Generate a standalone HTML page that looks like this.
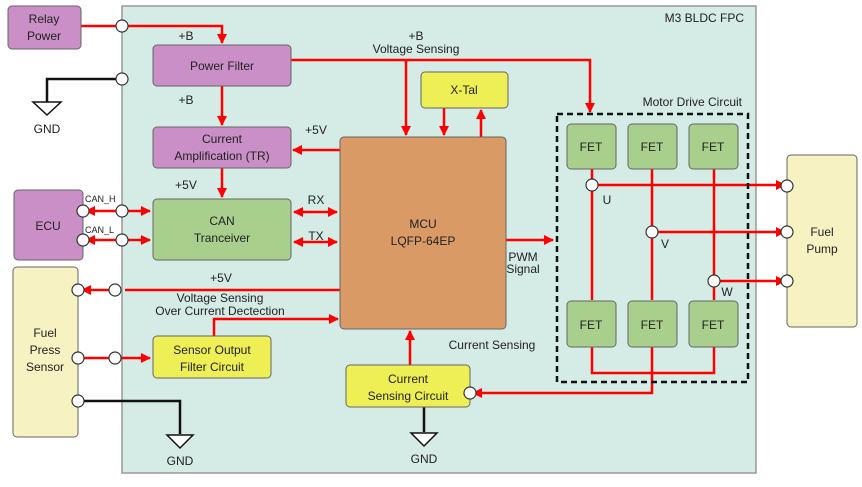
<!DOCTYPE html>
<html><head><style>body{margin:0;background:#fff}svg{display:block}</style></head><body>
<svg width="862" height="487" viewBox="0 0 862 487" xmlns="http://www.w3.org/2000/svg" font-family="Liberation Sans, sans-serif" font-size="12" fill="#222">
<defs>
<marker id="a" viewBox="0 0 10 10" refX="9" refY="5" markerWidth="4" markerHeight="4" orient="auto-start-reverse"><path d="M0,0L10,5L0,10z" fill="#f00"/></marker>
</defs>
<rect x="122" y="6" width="634" height="467" fill="#d4ebe6" stroke="#999" stroke-width="1.5"/>
<text x="744" y="22" text-anchor="end" font-size="12">M3 BLDC FPC</text>
<g stroke="#f00" stroke-width="2.5" fill="none">
<path d="M81,26H222V43" marker-end="url(#a)"/>
<path d="M291,60H590V112" marker-end="url(#a)"/>
<path d="M406,60V135" marker-end="url(#a)"/>
<path d="M222,86V125" marker-end="url(#a)"/>
<path d="M340,150H293" marker-end="url(#a)"/>
<path d="M222,168V197" marker-end="url(#a)"/>
<path d="M294,212H337" marker-start="url(#a)" marker-end="url(#a)"/>
<path d="M294,242H337" marker-start="url(#a)" marker-end="url(#a)"/>
<path d="M86,211H119" marker-start="url(#a)"/>
<path d="M125,211H150" marker-end="url(#a)"/>
<path d="M86,240H119" marker-start="url(#a)"/>
<path d="M125,240H150" marker-end="url(#a)"/>
<path d="M340,290H125"/>
<path d="M111,290H82" marker-end="url(#a)"/>
<path d="M82,358H111"/>
<path d="M119,358H150" marker-end="url(#a)"/>
<path d="M214,336V319H338" marker-end="url(#a)"/>
<path d="M410,365V331" marker-end="url(#a)"/>
<path d="M444,108V135" marker-end="url(#a)"/>
<path d="M481,137V110" marker-end="url(#a)"/>
<path d="M506,240H553" marker-end="url(#a)"/>
<path d="M592,169V300M652,169V300M714,169V300"/>
<path d="M592,185H785" marker-end="url(#a)"/>
<path d="M652,232H785" marker-end="url(#a)"/>
<path d="M714,281H785" marker-end="url(#a)"/>
<path d="M592,347V373H714V347"/>
<path d="M652,347V393H473" marker-end="url(#a)"/>
</g>
<g stroke="#111" stroke-width="2.5" fill="none">
<path d="M122,79H47V102"/><path d="M78,401H180V434"/><path d="M424,407V432"/>
</g>
<g fill="#fff" stroke="#111" stroke-width="1.5">
<path d="M33,102H61L47,115z"/><path d="M167,435H193L180,448z"/><path d="M411,433H437L424,446z"/>
</g>
<g font-size="12" text-anchor="middle">
<text x="47" y="133">GND</text><text x="180" y="465">GND</text><text x="424" y="463">GND</text>
</g>
<rect x="557" y="114" width="191" height="268" fill="none" stroke="#111" stroke-width="2.5" stroke-dasharray="6,4"/>
<text x="742" y="106" text-anchor="end">Motor Drive Circuit</text>
<g stroke="#666" stroke-width="1">
<rect x="8" y="6" width="73" height="43" rx="4" fill="#c98fc6"/>
<rect x="153" y="45" width="138" height="41" rx="4" fill="#c98fc6"/>
<rect x="153" y="127" width="138" height="41" rx="4" fill="#c98fc6"/>
<rect x="153" y="199" width="138" height="61" rx="4" fill="#a8d08c"/>
<rect x="14" y="190" width="69" height="70" rx="4" fill="#c98fc6"/>
<rect x="13" y="267" width="65" height="170" rx="4" fill="#f7f2c2"/>
<rect x="340" y="137" width="166" height="192" rx="4" fill="#d99a66"/>
<rect x="421" y="72" width="87" height="36" rx="4" fill="#eeee55"/>
<rect x="153" y="336" width="118" height="42" rx="4" fill="#eeee55"/>
<rect x="346" y="365" width="124" height="42" rx="4" fill="#eeee55"/>
<rect x="787" y="155" width="70" height="172" rx="4" fill="#f7f2c2"/>
<rect x="567" y="124" width="49" height="45" rx="4" fill="#a8d08c"/>
<rect x="628" y="124" width="49" height="45" rx="4" fill="#a8d08c"/>
<rect x="689" y="124" width="49" height="45" rx="4" fill="#a8d08c"/>
<rect x="567" y="301" width="49" height="46" rx="4" fill="#a8d08c"/>
<rect x="628" y="301" width="49" height="46" rx="4" fill="#a8d08c"/>
<rect x="689" y="301" width="49" height="46" rx="4" fill="#a8d08c"/>
</g>
<g fill="#fff" stroke="#333" stroke-width="1.2">
<circle cx="122" cy="26" r="6"/><circle cx="122" cy="79" r="6"/>
<circle cx="83" cy="211" r="6"/><circle cx="122" cy="211" r="6"/>
<circle cx="83" cy="240" r="6"/><circle cx="122" cy="240" r="6"/>
<circle cx="78" cy="290" r="6"/><circle cx="115" cy="290" r="6"/>
<circle cx="78" cy="358" r="6"/><circle cx="115" cy="358" r="6"/>
<circle cx="78" cy="401" r="6"/><circle cx="470" cy="393" r="6"/>
<circle cx="592" cy="185" r="6"/><circle cx="652" cy="232" r="6"/><circle cx="714" cy="281" r="6"/>
<circle cx="787" cy="186" r="6"/><circle cx="787" cy="232" r="6"/><circle cx="787" cy="281" r="6"/>
</g>
<g text-anchor="middle" font-size="12">
<text x="44" y="23">Relay</text><text x="44" y="40">Power</text>
<text x="222" y="70">Power Filter</text>
<text x="222" y="143">Current</text><text x="222" y="160">Amplification (TR)</text>
<text x="222" y="225">CAN</text><text x="222" y="242">Tranceiver</text>
<text x="48" y="230">ECU</text>
<text x="45" y="337">Fuel</text><text x="45" y="354">Press</text><text x="45" y="371">Sensor</text>
<text x="423" y="228">MCU</text><text x="423" y="245">LQFP-64EP</text>
<text x="464" y="94">X-Tal</text>
<text x="212" y="354">Sensor Output</text><text x="212" y="371">Filter Circuit</text>
<text x="408" y="383">Current</text><text x="408" y="400">Sensing Circuit</text>
<text x="822" y="236">Fuel</text><text x="822" y="253">Pump</text>
<text x="591" y="151">FET</text><text x="652" y="151">FET</text><text x="713" y="151">FET</text>
<text x="591" y="329">FET</text><text x="652" y="329">FET</text><text x="713" y="329">FET</text>
<text x="186" y="40">+B</text><text x="186" y="104">+B</text>
<text x="416" y="40">+B</text><text x="416" y="53">Voltage Sensing</text>
<text x="316" y="134">+5V</text><text x="186" y="189">+5V</text>
<text x="316" y="204">RX</text><text x="316" y="240">TX</text>
<text x="221" y="282">+5V</text>
<text x="220" y="302">Voltage Sensing</text><text x="220" y="315">Over Current Dectection</text>
<text x="492" y="349">Current Sensing</text>
<text x="523" y="261">PWM</text><text x="523" y="273">Signal</text>
<text x="607" y="204">U</text><text x="665" y="248">V</text><text x="727" y="296">W</text>
</g>
<text x="85" y="202" font-size="9">CAN_H</text><text x="85" y="233" font-size="9">CAN_L</text>
</svg>
</body></html>
